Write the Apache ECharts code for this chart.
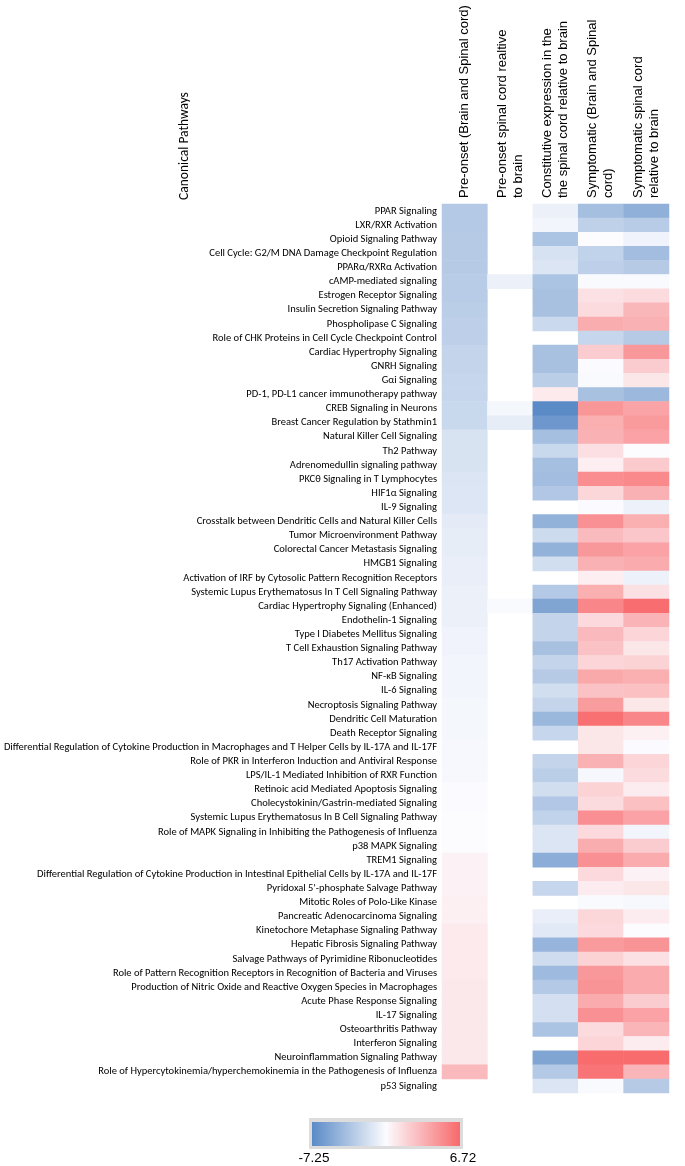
<!DOCTYPE html>
<html>
<head>
<meta charset="utf-8">
<script src="https://cdn.jsdelivr.net/npm/echarts@6/dist/echarts.min.js"></script>
<style>
html,body{margin:0;padding:0;background:#fff;}
#chart{width:685px;height:1166px;}
</style>
</head>
<body>
<div id="chart"></div>
<script>
const pathways = [
"PPAR Signaling","LXR/RXR Activation","Opioid Signaling Pathway","Cell Cycle: G2/M DNA Damage Checkpoint Regulation","PPARα/RXRα Activation",
"cAMP-mediated signaling","Estrogen Receptor Signaling","Insulin Secretion Signaling Pathway","Phospholipase C Signaling","Role of CHK Proteins in Cell Cycle Checkpoint Control",
"Cardiac Hypertrophy Signaling","GNRH Signaling","Gαi Signaling","PD-1, PD-L1 cancer immunotherapy pathway","CREB Signaling in Neurons",
"Breast Cancer Regulation by Stathmin1","Natural Killer Cell Signaling","Th2 Pathway","Adrenomedullin signaling pathway","PKCθ Signaling in T Lymphocytes",
"HIF1α Signaling","IL-9 Signaling","Crosstalk between Dendritic Cells and Natural Killer Cells","Tumor Microenvironment Pathway","Colorectal Cancer Metastasis Signaling",
"HMGB1 Signaling","Activation of IRF by Cytosolic Pattern Recognition Receptors","Systemic Lupus Erythematosus In T Cell Signaling Pathway","Cardiac Hypertrophy Signaling (Enhanced)","Endothelin-1 Signaling",
"Type I Diabetes Mellitus Signaling","T Cell Exhaustion Signaling Pathway","Th17 Activation Pathway","NF-κB Signaling","IL-6 Signaling",
"Necroptosis Signaling Pathway","Dendritic Cell Maturation","Death Receptor Signaling","Differential Regulation of Cytokine Production in Macrophages and T Helper Cells by IL-17A and IL-17F","Role of PKR in Interferon Induction and Antiviral Response",
"LPS/IL-1 Mediated Inhibition of RXR Function","Retinoic acid Mediated Apoptosis Signaling","Cholecystokinin/Gastrin-mediated Signaling","Systemic Lupus Erythematosus In B Cell Signaling Pathway","Role of MAPK Signaling in Inhibiting the Pathogenesis of Influenza",
"p38 MAPK Signaling","TREM1 Signaling","Differential Regulation of Cytokine Production in Intestinal Epithelial Cells by IL-17A and IL-17F","Pyridoxal 5'-phosphate Salvage Pathway","Mitotic Roles of Polo-Like Kinase",
"Pancreatic Adenocarcinoma Signaling","Kinetochore Metaphase Signaling Pathway","Hepatic Fibrosis Signaling Pathway","Salvage Pathways of Pyrimidine Ribonucleotides","Role of Pattern Recognition Receptors in Recognition of Bacteria and Viruses",
"Production of Nitric Oxide and Reactive Oxygen Species in Macrophages","Acute Phase Response Signaling","IL-17 Signaling","Osteoarthritis Pathway","Interferon Signaling",
"Neuroinflammation Signaling Pathway","Role of Hypercytokinemia/hyperchemokinemia in the Pathogenesis of Influenza","p53 Signaling"
];

const conditions = [
"Pre-onset (Brain and Spinal cord)",
"Pre-onset spinal cord realtive\nto brain",
"Constitutive expression in the\nthe spinal cord relative to brain",
"Symptomatic (Brain and Spinal\ncord)",
"Symptomatic spinal cord\nrelative to brain"
];

const preOnset = [
-3.4,-3.4,-3.3,-3.3,-3.3,-3.2,-3.2,-3.1,-3.0,-3.0,
-2.7,-2.7,-2.6,-2.6,-2.5,-2.5,-1.8,-1.8,-1.8,-1.7,
-1.6,-1.6,-1.3,-1.2,-1.2,-1.1,-1.1,-1.0,-1.0,-1.0,
-0.8,-0.8,-0.7,-0.7,-0.7,-0.6,-0.6,-0.6,-0.5,-0.5,
-0.5,-0.3,-0.3,-0.2,-0.2,-0.2,0.2,0.2,0.2,0.3,
0.3,0.6,0.6,0.6,0.6,0.7,0.7,0.7,0.7,0.7,
0.7,2.9,null
];

const preOnsetSpinal = [
null,null,null,null,null,-1.0,null,null,null,null,
null,null,null,null,-0.6,-1.2,null,null,null,null,
null,null,null,null,null,null,null,null,-0.4,null,
null,null,null,null,null,null,null,null,null,null,
null,null,null,null,null,null,null,null,null,null,
null,null,null,null,null,null,null,null,null,null,
null,null,null
];

const constitutive = [
-1.0,-0.7,-3.7,-1.9,-1.7,-3.7,-3.9,-3.9,-2.4,null,
-3.9,-3.9,-3.1,0.6,-7.2,-6.4,-4.0,-2.5,-4.0,-4.1,
-3.5,null,-4.8,-2.3,-4.8,-2.1,null,-3.4,-5.6,-2.7,
-2.7,-3.9,-2.7,-3.3,-2.1,-2.7,-4.5,-2.6,null,-2.7,
-3.1,-2.1,-3.5,-2.8,-1.7,-1.7,-5.1,null,-2.6,null,
-1.1,-1.4,-4.6,-2.2,-4.3,-3.4,-2.0,-2.0,-3.7,null,
-5.6,-3.4,-1.7
];

const symptomatic = [
-4.0,-2.9,-0.2,-2.8,-3.0,-0.4,1.0,1.3,3.5,-2.6,
2.0,-0.3,-0.4,-3.9,4.6,3.4,3.3,1.1,0.4,5.0,
1.5,-0.3,4.8,2.8,4.5,3.3,0.4,3.4,5.3,1.4,
2.9,2.5,1.6,3.7,2.5,4.3,6.4,0.8,0.8,3.3,
-0.5,1.7,1.3,4.9,1.4,3.5,4.8,1.4,0.5,-0.4,
1.5,1.4,4.4,1.7,4.5,4.7,3.6,4.8,1.3,1.6,
6.6,6.2,-0.4
];

const symptomaticSpinal = [
-4.9,-3.2,-0.8,-4.1,-3.3,-0.4,1.3,3.0,3.3,-3.3,
4.5,2.0,0.8,-4.4,3.9,4.4,4.0,-0.2,2.1,5.2,
3.3,-0.9,3.4,2.3,4.0,3.6,-0.9,1.0,6.5,3.2,
1.6,0.8,1.7,3.4,2.6,0.8,5.3,0.3,-0.3,1.6,
1.3,0.5,2.6,4.0,-0.7,2.0,3.6,0.2,0.8,-0.5,
0.5,-0.2,4.7,1.0,3.6,3.6,2.0,4.0,3.1,0.5,
6.6,3.1,-3.3
];

const scaleMin = -7.25, scaleMax = 6.72;
const scaleLabels = ["-7.25", "6.72"];

const columns = [preOnset, preOnsetSpinal, constitutive, symptomatic, symptomaticSpinal];
const cells = [];
columns.forEach((col, ci) => {
  col.forEach((v, ri) => { if (v !== null) cells.push([ci, ri, v]); });
});

const chart = echarts.init(document.getElementById('chart'), null, {renderer: 'canvas'});
const labelFont = "Carlito, Lato, sans-serif";
chart.setOption({
  animation: false,
  backgroundColor: '#fff',
  grid: {left: 442, top: 204, width: 227, height: 889, containLabel: false, outerBoundsMode: 'none'},
  xAxis: {
    type: 'category', position: 'top', data: conditions,
    axisLine: {show: false}, axisTick: {show: false}, splitLine: {show: false},
    axisLabel: {interval: 0, rotate: -90, margin: 6, fontSize: 13, lineHeight: 16,
      fontFamily: "'Liberation Sans', Arial, sans-serif", color: '#000'}
  },
  yAxis: {
    type: 'category', data: pathways, inverse: true,
    axisLine: {show: false}, axisTick: {show: false}, splitLine: {show: false},
    axisLabel: {interval: 0, margin: 5, fontSize: 10.5, fontFamily: labelFont, color: '#000'}
  },
  visualMap: {
    type: 'continuous', show: false, min: scaleMin, max: scaleMax, calculable: false,
    inRange: {color: ['#5A8AC6', '#FCFCFF', '#F8696B']}
  },
  series: [{
    type: 'heatmap', data: cells,
    itemStyle: {borderWidth: 0},
    emphasis: {disabled: true}
  }],
  graphic: [
    {type: 'text', x: 185, y: 146, rotation: Math.PI/2,
      style: {text: 'Canonical Pathways', font: "13.5px " + labelFont, fill: '#000', align: 'center', verticalAlign: 'middle'}},
    {type: 'rect', shape: {x: 309, y: 1118, width: 154, height: 31}, style: {fill: '#dcdcdc'}},
    {type: 'rect', shape: {x: 312, y: 1122, width: 148, height: 24},
      style: {fill: new echarts.graphic.LinearGradient(0, 0, 1, 0, [
        {offset: 0, color: '#5A8AC6'}, {offset: 0.5, color: '#FCFCFF'}, {offset: 1, color: '#F8696B'}])}},
    {type: 'text', x: 314, y: 1158, style: {text: scaleLabels[0], font: "13.5px 'Liberation Sans', Arial, sans-serif", fill: '#000', align: 'center', verticalAlign: 'middle'}},
    {type: 'text', x: 463, y: 1158, style: {text: scaleLabels[1], font: "13.5px 'Liberation Sans', Arial, sans-serif", fill: '#000', align: 'center', verticalAlign: 'middle'}}
  ]
});
</script>
</body>
</html>
